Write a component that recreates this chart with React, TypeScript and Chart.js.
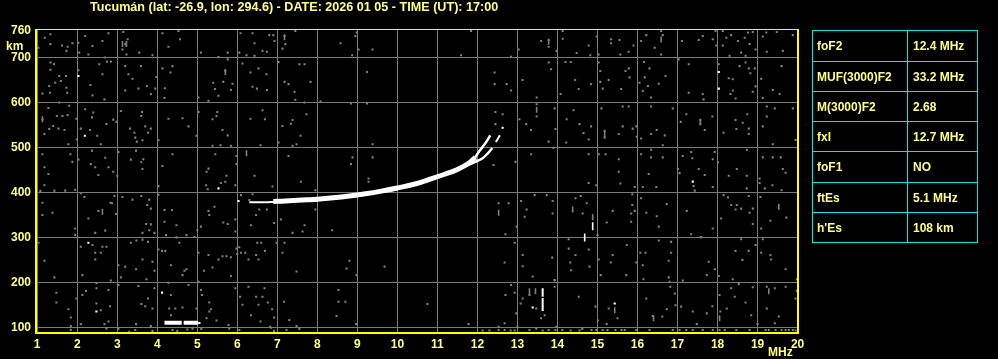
import { useEffect, useRef } from 'react';
import { Chart, registerables } from 'chart.js';

Chart.register(...registerables);

const FONT = '"Liberation Sans", Arial, sans-serif';
const LABEL = '#ffff88';
const FRAME = '#ffff00';
const GRID = '#7a7a7a';
const NOISE = '#808080';
const TRACE = '#ffffff';
const CYAN = '#00e8e8';

const titleText = 'Tucumán (lat: -26.9, lon: 294.6) - DATE: 2026 01 05 - TIME (UT): 17:00';
const freqTicks = [1, 2, 3, 4, 5, 6, 7, 8, 9, 10, 11, 12, 13, 14, 15, 16, 17, 18, 19, 20];
const heightTicks = [100, 200, 300, 400, 500, 600, 700, 760];

const paramNames = ['foF2', 'MUF(3000)F2', 'M(3000)F2', 'fxI', 'foF1', 'ftEs', "h'Es"];
const paramValues = ['12.4 MHz', '33.2 MHz', '2.68', '12.7 MHz', 'NO', '5.1 MHz', '108 km'];

// F2 trace (ordinary), thick band
const oTrace = [[6.9, 380], [7.2, 381], [7.6, 383], [8.0, 385], [8.4, 388], [8.8, 392], [9.2, 397], [9.6, 403], [10.0, 410], [10.4, 418], [10.8, 429], [11.2, 441], [11.5, 451], [11.8, 466], [11.95, 478]];
const oStart = [[6.3, 378], [6.6, 378], [6.95, 379.5]];
const oTip = [[11.9, 472], [12.05, 492], [12.18, 507], [12.26, 518], [12.32, 527]];
const xTrace = [[11.7, 458], [11.95, 468], [12.13, 476], [12.26, 487], [12.37, 499]];
const xTip = [[12.46, 512], [12.56, 527]];
// Sporadic E
const esTraceA = [[4.18, 110], [4.61, 110]];
const esTraceB = [[4.66, 110], [5.02, 110]];
const esTail = [[5.02, 109.5], [5.08, 109.5]];
const esSpreadA = [[13.63, 187], [13.63, 168]];
const esSpreadB = [[13.63, 165], [13.63, 136]];

const whiteDots = [[2.03, 659], [2.19, 526], [2.28, 288], [2.48, 135], [4.12, 177], [5.53, 409], [6.03, 381], [18.03, 668], [18.03, 631], [12.63, 544], [17.38, 424], [15.43, 153], [13.38, 144]];
const whiteDashes = [[14.88, 325], [14.68, 300]];

const grayDashes = [[16.59, 740], [13.78, 735], [14.38, 362], [14.88, 345], [15.43, 138], [16.4, 120], [19.53, 368], [13.48, 584], [15.18, 530], [17.57, 557], [12.53, 355], [13.3, 180], [3.13, 730], [1.13, 563], [2.63, 357], [7.18, 745], [5.7, 668], [18.05, 120], [19.28, 180], [13.45, 180], [6.23, 487], [3.23, 730]];

const grayDots = [
  [1.33, 752], [1.19, 744], [1.03, 722], [1.33, 730], [1.62, 727], [1.76, 724], [1.88, 732], [1.73, 715], [2.03, 733], [2.05, 711], [2.2, 748], [2.28, 707], [2.38, 726], [2.63, 737], [2.78, 754], [2.69, 700], [3.15, 757], [3.2, 730], [3.26, 741], [3.13, 718], [3.23, 707], [3.55, 711], [3.88, 705], [4.13, 754], [4.28, 724], [4.57, 741], [4.53, 759], [5.09, 711], [5.53, 701], [5.76, 711], [6.08, 754], [6.38, 754], [6.43, 732], [6.05, 711], [6.23, 705], [6.43, 704], [6.63, 715], [6.74, 713], [6.8, 750], [6.9, 750], [6.93, 737], [7.18, 748], [7.2, 730], [7.13, 720], [7.45, 759], [8.58, 732], [8.98, 756], [8.95, 748], [9.03, 718], [9.38, 718], [8.87, 705],
  [11.84, 759], [11.59, 705], [12.84, 702], [13.03, 718], [13.59, 737], [13.78, 739], [13.78, 724], [14.13, 759], [14.13, 742], [13.98, 715], [14.48, 710], [14.78, 727], [14.82, 705], [14.98, 747], [15.03, 707], [15.34, 741], [15.34, 732], [15.55, 739], [15.57, 707], [15.78, 713], [15.9, 727], [16.09, 737], [16.22, 750], [16.43, 722], [16.59, 759], [16.63, 750], [16.59, 707], [17.11, 737], [17.53, 739], [17.63, 748], [17.88, 741], [17.95, 759], [18.13, 727], [18.13, 759], [18.34, 750], [18.22, 744], [18.51, 737], [18.68, 744], [18.76, 756], [18.88, 757], [18.8, 730], [18.59, 711], [18.95, 718], [19.22, 756], [19.48, 757], [19.13, 747], [19.23, 713], [19.63, 715], [19.88, 750], [18.3, 704], [18.7, 704], [17.97, 727],
  [1.33, 689], [1.42, 685], [1.33, 673], [1.55, 659], [1.59, 648], [1.45, 644], [1.3, 637], [1.13, 620], [1.32, 622], [1.73, 633], [1.75, 622], [1.72, 659], [1.55, 600], [2.03, 672], [2.33, 639], [2.38, 616], [2.63, 663], [2.55, 685], [2.74, 691], [2.84, 691], [2.68, 607], [3.28, 663], [3.38, 653], [3.2, 627], [3.53, 631], [3.74, 637], [3.84, 619], [3.95, 631], [3.98, 657], [3.2, 681], [3.59, 681], [4.13, 676], [4.33, 667], [4.38, 681], [4.19, 632], [4.18, 610], [5.03, 611], [5.28, 604], [5.4, 644], [5.44, 630], [5.53, 615], [5.65, 646], [5.7, 670], [5.88, 642], [5.84, 628], [5.76, 696], [6.13, 687], [6.33, 667], [6.53, 676], [6.73, 663], [6.38, 635], [6.49, 631], [6.74, 628], [7.03, 690], [7.55, 685], [7.68, 685], [7.18, 646], [7.28, 641], [7.83, 646], [7.43, 624], [7.45, 606], [7.68, 600], [8.08, 602], [8.84, 598], [9.24, 668], [9.24, 598],
  [12.43, 667], [12.43, 641], [12.73, 641], [12.84, 627], [13.13, 650], [13.78, 689], [13.84, 674], [14.2, 690], [14.33, 690], [14.08, 619], [14.44, 650], [14.53, 630], [14.84, 641], [15.03, 689], [15.07, 670], [15.07, 646], [15.28, 650], [15.13, 631], [15.59, 630], [15.78, 676], [15.7, 670], [15.8, 656], [16.05, 644], [16.16, 690], [16.18, 656], [16.26, 637], [16.13, 626], [16.3, 676], [16.34, 611], [16.53, 642], [16.7, 659], [17.03, 696], [17.28, 685], [17.28, 622], [17.63, 619], [17.65, 607], [18.03, 685], [18.28, 654], [18.38, 652], [18.38, 627], [18.55, 681], [18.7, 689], [18.78, 676], [18.82, 665], [18.93, 676], [18.88, 624], [18.95, 636], [19.13, 610], [19.09, 653], [19.38, 628], [19.55, 619], [19.6, 681], [18.32, 619], [18.45, 609],
  [1.13, 563], [1.28, 588], [1.18, 530], [1.3, 541], [1.4, 548], [1.53, 542], [1.68, 539], [1.49, 570], [1.63, 570], [1.76, 572], [1.8, 593], [1.78, 507], [1.98, 564], [2.2, 585], [2.4, 578], [2.37, 567], [2.09, 542], [2.32, 539], [1.99, 518], [2.5, 526], [2.59, 507], [2.73, 552], [2.9, 562], [2.98, 557], [3.09, 581], [3.32, 542], [3.43, 533], [3.45, 522], [3.49, 513], [3.62, 579], [3.6, 570], [3.7, 547], [3.77, 533], [3.84, 542], [3.63, 516], [4.03, 516], [4.28, 564], [4.63, 565], [4.78, 547], [4.98, 526], [5.03, 579], [5.38, 563], [5.48, 570], [5.5, 579], [5.63, 539], [5.38, 504], [5.58, 505], [5.84, 504], [5.76, 527], [6.33, 564], [6.63, 583], [6.69, 563], [6.58, 505], [7.13, 548], [7.34, 553], [7.38, 561], [7.58, 526], [7.73, 574], [7.03, 511], [7.38, 504], [7.48, 507], [9.38, 507],
  [12.45, 579], [12.63, 574], [12.45, 552], [13.05, 563], [13.22, 552], [13.34, 539], [13.48, 611], [13.48, 596], [13.48, 569], [13.78, 513], [13.93, 587], [13.95, 541], [14.23, 563], [14.4, 583], [14.55, 552], [14.65, 532], [14.78, 518], [14.84, 547], [14.22, 511], [15.1, 587], [15.18, 537], [15.18, 522], [15.53, 530], [15.63, 591], [15.78, 591], [15.63, 547], [15.88, 542], [15.97, 547], [15.98, 524], [16.09, 520], [16.34, 591], [16.34, 530], [16.48, 539], [16.68, 527], [16.63, 505], [16.88, 587], [17.08, 557], [17.22, 574], [17.57, 561], [17.57, 552], [17.68, 539], [17.87, 569], [18.15, 533], [18.47, 541], [18.45, 561], [18.63, 555], [18.74, 574], [18.78, 542], [18.78, 530], [19.13, 547], [19.23, 591], [19.43, 587], [19.23, 569], [19.88, 587], [19.95, 517], [19.38, 507],
  [1.13, 485], [1.18, 456], [1.28, 441], [1.83, 485], [1.88, 468], [2.03, 473], [2.37, 493], [2.34, 463], [2.45, 456], [2.53, 439], [2.7, 477], [2.78, 456], [2.9, 446], [3.0, 437], [3.03, 490], [3.34, 473], [3.47, 493], [3.6, 467], [3.65, 474], [3.63, 452], [4.13, 459], [4.38, 485], [5.28, 453], [5.23, 446], [5.45, 485], [5.73, 437], [5.98, 481], [5.98, 463], [6.43, 437], [7.28, 481], [8.88, 478], [8.84, 463], [9.38, 478], [9.28, 431],
  [12.4, 461], [12.95, 468], [13.34, 485], [13.9, 499], [14.78, 485], [15.03, 485], [15.2, 485], [15.53, 474], [15.53, 446], [16.09, 485], [16.34, 495], [16.34, 478], [16.63, 478], [16.28, 441], [17.01, 452], [17.05, 443], [17.13, 481], [17.34, 490], [17.37, 476], [17.53, 452], [17.68, 439], [17.93, 490], [17.88, 474], [18.01, 467], [18.28, 437], [18.48, 452], [18.73, 437], [18.73, 495], [19.13, 478], [19.38, 478], [19.58, 478], [19.63, 452], [19.7, 444], [19.05, 431],
  [1.08, 403], [1.43, 404], [1.7, 404], [1.95, 406], [1.18, 416], [1.13, 377], [1.38, 355], [1.13, 350], [2.18, 390], [2.09, 398], [2.53, 359], [2.28, 342], [1.95, 320], [1.95, 305], [2.45, 310], [2.7, 315], [2.87, 376], [2.93, 392], [2.83, 377], [2.97, 352], [3.13, 390], [3.38, 384], [3.6, 392], [3.75, 372], [3.8, 384], [3.84, 364], [3.72, 330], [3.84, 329], [3.63, 310], [3.8, 316], [3.93, 310], [4.03, 414], [4.03, 395], [4.18, 361], [4.37, 361], [4.18, 335], [4.48, 327], [4.22, 305], [4.48, 300], [4.73, 305], [4.93, 301], [5.09, 324], [5.0, 316], [5.3, 350], [5.28, 359], [5.43, 368], [5.26, 407], [5.22, 416], [5.59, 421], [5.7, 424], [5.95, 416], [5.65, 333], [5.76, 330], [5.95, 340], [5.95, 313], [6.09, 394], [6.3, 383], [6.38, 396], [6.47, 350], [6.34, 327], [6.55, 362], [6.74, 362], [6.88, 413], [6.92, 332], [7.09, 340], [7.38, 310], [7.63, 313], [7.68, 327], [8.37, 316], [7.95, 362], [7.95, 405], [7.59, 424], [9.28, 424],
  [12.53, 376], [12.78, 376], [12.7, 307], [12.98, 324], [13.09, 381], [13.23, 362], [13.18, 346], [13.43, 394], [13.73, 394], [13.88, 353], [13.88, 381], [14.45, 387], [14.63, 353], [14.58, 392], [14.73, 376], [15.0, 305], [14.97, 416], [14.78, 421], [15.23, 333], [15.38, 359], [15.57, 420], [15.93, 412], [15.87, 396], [15.87, 372], [15.84, 353], [15.84, 335], [15.93, 359], [16.09, 387], [16.22, 355], [16.48, 347], [16.47, 412], [16.13, 412], [16.53, 324], [16.73, 374], [17.23, 359], [17.4, 414], [17.43, 404], [17.34, 307], [17.59, 300], [17.88, 412], [17.88, 320], [18.09, 342], [18.15, 394], [18.26, 389], [18.34, 372], [18.48, 372], [18.45, 362], [18.59, 364], [18.73, 409], [18.78, 392], [18.88, 364], [18.8, 355], [18.88, 330], [19.07, 390], [19.09, 320], [19.32, 337], [19.72, 344], [19.6, 405], [19.18, 409], [19.37, 416], [19.05, 421],
  [1.03, 288], [1.18, 248], [1.43, 211], [2.09, 279], [2.38, 283], [2.45, 266], [2.59, 266], [2.63, 279], [2.73, 279], [2.45, 251], [2.13, 216], [2.84, 204], [3.03, 238], [3.2, 235], [3.09, 211], [3.34, 288], [3.48, 293], [3.63, 295], [3.77, 290], [3.63, 251], [3.47, 229], [3.73, 207], [3.88, 246], [3.93, 226], [4.03, 273], [4.12, 270], [4.2, 270], [4.34, 238], [4.55, 288], [4.68, 226], [4.73, 229], [4.63, 216], [5.03, 266], [5.17, 226], [5.28, 261], [5.38, 233], [5.53, 251], [5.63, 258], [5.73, 258], [5.84, 256], [5.84, 214], [5.98, 275], [6.0, 263], [6.05, 278], [6.09, 266], [6.2, 266], [6.28, 251], [6.47, 261], [6.53, 251], [6.5, 288], [6.6, 288], [6.69, 270], [6.98, 288], [7.18, 288], [7.13, 266], [7.48, 224], [8.8, 248], [8.73, 231], [8.98, 216], [9.68, 235],
  [12.68, 244], [13.13, 261], [13.13, 236], [12.93, 288], [13.38, 213], [13.87, 255], [13.93, 205], [14.28, 296], [14.28, 275], [14.32, 244], [14.34, 227], [14.45, 261], [14.78, 273], [14.8, 235], [15.03, 251], [15.08, 216], [15.38, 261], [15.33, 244], [15.73, 283], [15.72, 216], [15.97, 244], [16.07, 266], [16.2, 266], [16.13, 238], [16.15, 207], [16.53, 293], [16.78, 248], [16.84, 266], [16.84, 290], [16.78, 211], [17.13, 204], [17.58, 301], [17.78, 246], [17.73, 216], [17.93, 229], [18.03, 214], [18.38, 207], [18.45, 270], [18.62, 250], [18.78, 270], [18.95, 283], [19.09, 266], [19.32, 261], [19.34, 251], [19.7, 229], [19.98, 207], [18.59, 296], [19.13, 296],
  [1.48, 177], [1.48, 155], [1.78, 140], [1.84, 122], [1.84, 103], [1.98, 164], [2.13, 172], [2.22, 181], [2.48, 198], [2.48, 187], [2.78, 183], [2.48, 153], [2.59, 138], [2.78, 113], [2.68, 107], [2.82, 147], [2.09, 107], [3.03, 194], [3.53, 192], [3.47, 107], [3.6, 152], [3.7, 147], [3.77, 164], [3.88, 142], [3.93, 187], [3.84, 103], [4.28, 199], [4.34, 172], [4.3, 142], [4.34, 127], [4.45, 142], [4.63, 144], [4.78, 194], [5.03, 201], [5.09, 183], [5.12, 172], [4.98, 142], [5.3, 135], [5.23, 120], [5.34, 140], [5.3, 155], [5.48, 115], [5.78, 105], [5.95, 187], [6.07, 168], [6.13, 150], [6.28, 190], [6.34, 127], [6.47, 168], [6.53, 150], [6.63, 168], [6.68, 187], [6.76, 155], [6.87, 140], [6.92, 122], [6.58, 113], [6.82, 101], [7.17, 157], [7.3, 116], [7.48, 103], [8.53, 183], [8.53, 157], [8.7, 157], [8.48, 125], [8.97, 107],
  [10.75, 152], [11.78, 107], [12.53, 101], [12.68, 109], [12.7, 172], [12.84, 194], [12.93, 177], [12.97, 131], [13.13, 164], [13.08, 153], [13.0, 101], [13.3, 172], [13.47, 142], [13.59, 120], [13.68, 127], [13.93, 204], [13.93, 190], [13.97, 101], [14.53, 168], [14.95, 146], [15.01, 115], [15.28, 142], [15.23, 107], [15.5, 120], [16.22, 164], [16.38, 125], [16.62, 124], [16.73, 140], [16.8, 201], [16.82, 190], [16.93, 175], [16.95, 149], [17.09, 146], [17.38, 135], [17.48, 107], [17.73, 131], [17.87, 147], [18.05, 172], [18.07, 135], [18.23, 142], [18.34, 187], [18.43, 168], [18.53, 196], [18.7, 155], [18.84, 127], [18.88, 189], [19.23, 190], [19.43, 187], [19.7, 190], [19.23, 142], [19.43, 109], [19.53, 124], [19.95, 164], [19.98, 181], [19.0, 107],
  [1.84, 94], [2.73, 97], [3.03, 97], [3.3, 90], [3.45, 94], [3.88, 92], [4.38, 94], [4.5, 92], [4.75, 95], [4.88, 97], [5.1, 96], [5.8, 97], [6.05, 94], [6.84, 99], [6.92, 92], [7.23, 94], [7.55, 96], [12.13, 93], [12.3, 93], [12.53, 94], [12.68, 94], [12.83, 93], [12.93, 93], [13.3, 94], [13.47, 97], [13.63, 93], [13.78, 94], [13.95, 94], [14.12, 94], [14.33, 93], [14.55, 93], [14.62, 96], [14.85, 94], [14.97, 94], [15.13, 94], [15.25, 94], [15.45, 94], [15.6, 94], [15.68, 94], [15.97, 94], [16.3, 94], [16.88, 94], [17.05, 94], [17.22, 94], [17.38, 94], [17.63, 94], [17.88, 94], [18.05, 94], [18.18, 94], [18.47, 94], [18.8, 94], [19.2, 94], [19.28, 94], [19.45, 94], [19.6, 94], [19.7, 94], [19.78, 94], [19.88, 94], [19.95, 93],
];

const toPts = (arr: number[][]) => arr.map(([x, y]) => ({ x, y }));

const lineDs = (data: number[][], width: number) => ({
  data: toPts(data),
  showLine: true,
  borderColor: TRACE,
  borderWidth: width,
  pointRadius: 0,
  borderCapStyle: 'butt' as const,
  tension: 0.3,
});

const framePlugin = {
  id: 'ionoFrame',
  afterDraw(chart: any) {
    const { ctx, chartArea: a } = chart;
    ctx.save();
    ctx.fillStyle = FRAME;
    ctx.fillRect(a.left - 1, a.top - 0.5, a.right - a.left + 2, 1);
    ctx.fillRect(a.left - 1, a.top - 0.5, 2, a.bottom - a.top + 1);
    ctx.fillRect(a.right - 1, a.top - 0.5, 2, a.bottom - a.top + 1);
    ctx.fillRect(a.left - 1, a.bottom - 1, a.right - a.left + 2, 2);
    ctx.fillStyle = LABEL;
    ctx.textBaseline = 'alphabetic';
    ctx.textAlign = 'left';
    ctx.font = `bold 12.6px ${FONT}`;
    ctx.fillText(titleText, 90, 11);
    ctx.font = `bold 12px ${FONT}`;
    ctx.fillText('km', 6, 50);
    ctx.fillText('MHz', 768, 356);
    ctx.restore();
  },
};

export default function App() {
  const ref = useRef<HTMLCanvasElement>(null);

  useEffect(() => {
    document.body.style.margin = '0';
    document.body.style.background = '#000';
    const tickFont = { family: FONT, size: 12, weight: 'bold' as const };
    const chart = new Chart(ref.current!, {
      type: 'scatter',
      data: {
        datasets: [
          lineDs(esTraceA, 4),
          lineDs(esTraceB, 4),
          lineDs(esTail, 2),
          lineDs(esSpreadA, 2),
          lineDs(esSpreadB, 2),
          lineDs(oTrace, 5),
          lineDs(oStart, 2),
          lineDs(oTip, 2.5),
          lineDs(xTrace, 2.5),
          lineDs(xTip, 2),
          {
            data: toPts(whiteDots),
            backgroundColor: TRACE,
            borderWidth: 0,
            pointStyle: 'rect',
            pointRadius: 1.5,
          },
          {
            data: toPts(whiteDashes),
            borderColor: TRACE,
            borderWidth: 1.6,
            pointStyle: 'line',
            pointRotation: 90,
            pointRadius: 4,
          },
          {
            data: toPts(grayDashes),
            borderColor: NOISE,
            borderWidth: 1.6,
            pointStyle: 'line',
            pointRotation: 90,
            pointRadius: 3,
          },
          {
            data: toPts(grayDots),
            backgroundColor: NOISE,
            borderWidth: 0,
            pointStyle: 'rect',
            pointRadius: 1.45,
          },
        ] as any,
      },
      options: {
        responsive: false,
        animation: false,
        devicePixelRatio: 1,
        events: [],
        layout: { padding: { top: 29.5, right: 200, left: 0, bottom: 0 } },
        plugins: { legend: { display: false }, tooltip: { enabled: false }, title: { display: false } },
        scales: {
          x: {
            type: 'linear',
            min: 0.97,
            max: 20.01,
            afterBuildTicks: (s: any) => { s.ticks = freqTicks.map((v) => ({ value: v })); },
            afterFit: (s: any) => { s.height = 26; },
            grid: { color: GRID, lineWidth: 1, drawTicks: false },
            border: { display: false },
            ticks: { color: LABEL, font: tickFont, padding: 4, autoSkip: false, maxRotation: 0, callback: (v: any) => String(v) },
          },
          y: {
            type: 'linear',
            min: 87.3,
            max: 762.5,
            afterBuildTicks: (s: any) => { s.ticks = heightTicks.map((v) => ({ value: v })); },
            afterFit: (s: any) => { s.width = 36; },
            grid: {
              color: (c: any) => (c.tick && c.tick.value === 760 ? 'rgba(0,0,0,0)' : GRID),
              lineWidth: 1,
              drawTicks: false,
            },
            border: { display: false },
            ticks: { color: LABEL, font: tickFont, padding: 5, autoSkip: false, callback: (v: any) => String(v) },
          },
        },
      },
      plugins: [framePlugin],
    });
    return () => chart.destroy();
  }, []);

  const rowHeights = [31, 30, 30, 30, 31, 30, 30];
  const cellText = {
    color: LABEL,
    fontFamily: FONT,
    fontWeight: 'bold' as const,
    fontSize: 12,
    display: 'flex',
    alignItems: 'center',
    boxSizing: 'border-box' as const,
    borderRight: `1px solid ${CYAN}`,
    borderBottom: `1px solid ${CYAN}`,
    whiteSpace: 'nowrap' as const,
  };

  return (
    <div style={{ position: 'absolute', left: 0, top: 0, width: 998, height: 359, background: '#000', overflow: 'hidden' }}>
      <canvas ref={ref} width={998} height={359} style={{ position: 'absolute', left: 0, top: 0, width: 998, height: 359 }} />
      <div style={{ position: 'absolute', left: 812, top: 30, width: 166, borderTop: `1px solid ${CYAN}`, borderLeft: `1px solid ${CYAN}`, boxSizing: 'border-box' }}>
        {paramNames.map((name, i) => (
          <div key={name} style={{ display: 'flex', height: rowHeights[i] }}>
            <div style={{ ...cellText, width: 95, paddingLeft: 4 }}>{name}</div>
            <div style={{ ...cellText, width: 70, paddingLeft: 5 }}>{paramValues[i]}</div>
          </div>
        ))}
      </div>
    </div>
  );
}
